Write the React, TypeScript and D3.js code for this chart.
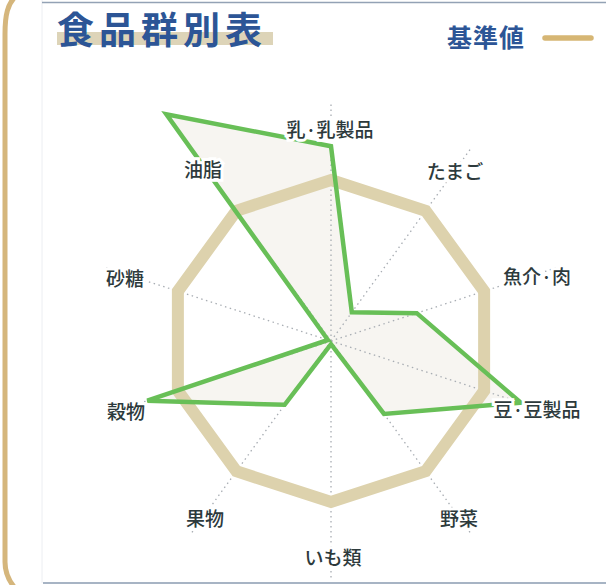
import React from "react";
import * as d3 from "d3";

const categories = ["乳·乳製品", "たまご", "魚介·肉", "豆·豆製品", "野菜", "いも類", "果物", "穀物", "砂糖", "油脂"];
const intakeValues = [121, 22, 56, 124, 56, 2, 49, 120, 2, 174];
const standardValues = [100, 100, 100, 100, 100, 100, 100, 100, 100, 100];
const titleText = "食品群別表";
const legendText = "基準値";

const W = 606;
const H = 585;
const CX = 331;
const CY = 341;

const labelPos: [number, number][] = [
  [330, 128], [455, 170], [537, 275], [537, 408], [459, 517],
  [333, 556], [205, 517], [126, 410], [125, 277], [203, 168],
];

export default function App() {
  const r = d3.scaleLinear().domain([0, 100]).range([0, 161]);
  const n = categories.length;
  const angle = d3.scaleLinear().domain([0, n]).range([0, 2 * Math.PI]);

  const radial = d3
    .lineRadial<number>()
    .angle((_, i) => angle(i))
    .radius((d) => r(d))
    .curve(d3.curveLinearClosed);

  const axisLen = r(147);

  const labelStyle: React.CSSProperties = {
    fontFamily: "'Noto Sans CJK JP', 'Noto Sans', sans-serif",
    fontSize: 19,
    fontWeight: 500,
    fill: "#2d3a3c",
  };

  return (
    <svg
      width={W}
      height={H}
      viewBox={`0 0 ${W} ${H}`}
      style={{ position: "absolute", left: 0, top: 0, background: "#fff" }}
    >
      {/* frame */}
      <line x1={42} y1={0} x2={42} y2={583} stroke="#eceef2" strokeWidth={1} />
      <line x1={42} y1={2.5} x2={606} y2={2.5} stroke="#93a2b5" strokeWidth={1.5} />
      <line x1={43} y1={583} x2={606} y2={583} stroke="#a7b4c4" strokeWidth={2.2} />
      <path
        d="M 15 -3 C 8 4, 5 14, 5 34 L 5 562 C 5 574, 9 581, 15 588"
        fill="none"
        stroke="#d5b67c"
        strokeWidth={5}
      />

      {/* title */}
      <rect x={57} y={32} width={216} height={13} fill="#ddd4b8" />
      <text
        x={57}
        y={44}
        fontFamily="'Noto Sans CJK JP', sans-serif"
        fontSize={37}
        fontWeight={700}
        letterSpacing={5}
        fill="#2c5596"
      >
        {titleText}
      </text>

      {/* legend */}
      <text
        x={447}
        y={47}
        fontFamily="'Noto Sans CJK JP', sans-serif"
        fontSize={25}
        fontWeight={700}
        letterSpacing={1}
        fill="#2c5596"
      >
        {legendText}
      </text>
      <line x1={545} y1={38} x2={591} y2={38} stroke="#d6b674" strokeWidth={5.5} strokeLinecap="round" />

      <g transform={`translate(${CX},${CY})`}>
        {/* data fill */}
        <path d={radial(intakeValues) || ""} fill="#f7f5f1" stroke="none" />
        {/* axes */}
        {categories.map((c, i) => {
          const a = angle(i);
          return (
            <line
              key={c}
              x1={0}
              y1={0}
              x2={axisLen * Math.sin(a)}
              y2={-axisLen * Math.cos(a)}
              stroke="#a8adb3"
              strokeWidth={1.3}
              strokeDasharray="1.5 3.5"
            />
          );
        })}
        {/* standard polygon */}
        <path
          d={radial(standardValues) || ""}
          fill="none"
          stroke="#ddd2ad"
          strokeWidth={12}
          strokeLinejoin="miter"
        />
        {/* intake polygon */}
        <path
          d={radial(intakeValues) || ""}
          fill="none"
          stroke="#68bf57"
          strokeWidth={4.5}
          strokeLinejoin="miter"
        />
      </g>

      {/* labels */}
      {categories.map((c, i) => (
        <text
          key={c}
          x={labelPos[i][0]}
          y={labelPos[i][1]}
          textAnchor="middle"
          dominantBaseline="central"
          stroke="#fff"
          strokeWidth={6}
          paintOrder="stroke"
          style={labelStyle}
        >
          {c}
        </text>
      ))}
    </svg>
  );
}
